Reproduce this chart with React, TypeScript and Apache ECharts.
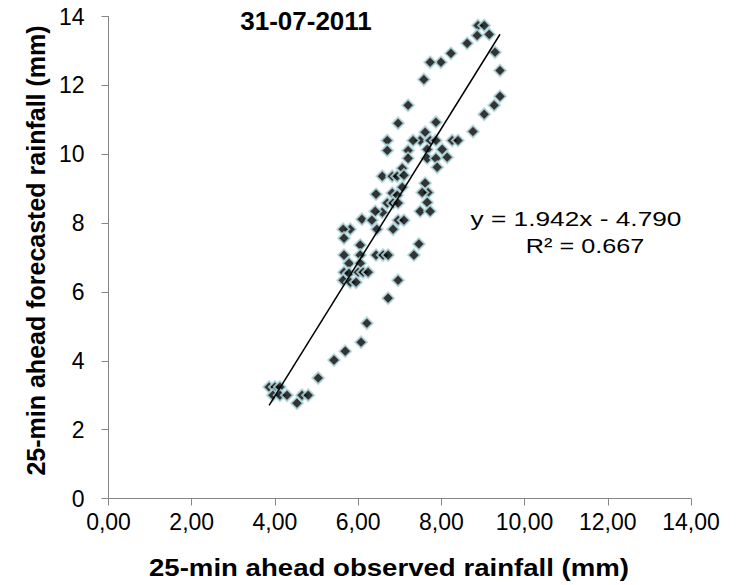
import React, { useEffect, useRef } from "react";
import * as echarts from "echarts";

// 25-min ahead observed vs forecasted rainfall (mm), event of 31-07-2011
const observed = [
  8.88, 9.03, 9.15, 8.86, 8.62, 8.23, 7.99, 7.73, 7.58, 9.29,
  9.41, 9.41, 9.27, 9.03, 8.76, 7.2, 6.96, 6.7, 6.7, 7.87,
  7.61, 7.49, 7.32, 7.73, 7.87, 8.26, 8.4, 7.2, 7.66, 8.02,
  7.2, 7.66, 7.87, 8.14, 7.06, 7.9, 6.58, 6.82, 6.94, 7.1,
  7.06, 7.61, 7.68, 7.54, 6.43, 6.82, 6.94, 6.7, 6.84, 6.96,
  7.66, 7.49, 7.73, 6.58, 6.41, 6.09, 6.33, 6.96, 7.1, 6.45,
  6.84, 5.81, 5.64, 5.66, 6.05, 7.46, 7.34, 5.66, 6.05, 6.43,
  6.6, 6.72, 5.78, 6.05, 5.66, 5.78, 6.0, 6.12, 6.24, 5.64,
  5.81, 5.95, 6.96, 6.72, 6.21, 6.07, 5.69, 5.42, 5.04, 3.86,
  4.0, 4.12, 3.95, 4.12, 4.29, 4.53, 4.65, 4.8,
];
const forecasted = [
  13.74, 13.74, 13.48, 13.45, 13.22, 12.93, 12.67, 12.67, 12.17, 12.96,
  12.43, 11.68, 11.42, 11.16, 10.66, 11.42, 10.9, 10.4, 10.11, 10.93,
  10.64, 10.4, 10.4, 10.4, 10.4, 10.4, 10.4, 10.11, 10.14, 10.14,
  9.88, 9.88, 9.88, 9.91, 9.59, 9.62, 9.36, 9.36, 9.36, 9.39,
  9.04, 9.16, 8.89, 8.89, 8.84, 8.87, 8.81, 8.58, 8.58, 8.58,
  8.6, 8.34, 8.34, 8.31, 8.34, 8.11, 8.08, 8.08, 8.08, 7.82,
  7.82, 7.82, 7.82, 7.56, 7.36, 7.39, 7.07, 7.07, 7.07, 7.07,
  7.07, 7.07, 6.83, 6.83, 6.57, 6.54, 6.57, 6.57, 6.57, 6.34,
  6.28, 6.28, 6.34, 5.82, 5.09, 4.54, 4.28, 4.02, 3.5, 3.24,
  3.24, 3.24, 3.0, 3.0, 3.0, 2.77, 3.0, 3.0,
];

// Linear trendline as reported on the chart
const slope = 1.942;
const intercept = -4.79;
const rSquared = 0.667;

const title = "31-07-2011";
const xAxisTitle = "25-min ahead observed rainfall (mm)";
const yAxisTitle = "25-min ahead forecasted rainfall (mm)";

const FONT = "'Liberation Sans', Arial, sans-serif";
const AXIS_GREY = "#868686";

export default function App() {
  const ref = useRef<HTMLDivElement>(null);

  useEffect(() => {
    document.body.style.margin = "0";
    const chart = echarts.init(ref.current!, null, { renderer: "svg" });

    const points = observed.map((x, i) => [x, forecasted[i]]);
    const xMin = Math.min(...observed);
    const xMax = Math.max(...observed);
    const trend = [
      [xMin, slope * xMin + intercept],
      [xMax, slope * xMax + intercept],
    ];

    chart.setOption({
      animation: false,
      backgroundColor: "#ffffff",
      grid: { left: 108.5, right: 51, top: 16.5, bottom: 86.5, containLabel: false },
      xAxis: {
        type: "value",
        min: 0,
        max: 14,
        interval: 2,
        axisLine: { show: true, lineStyle: { color: AXIS_GREY, width: 1 } },
        axisTick: { show: true, inside: false, length: 7, lineStyle: { color: AXIS_GREY } },
        splitLine: { show: false },
        axisLabel: {
          fontFamily: FONT,
          fontSize: 23,
          color: "#000",
          margin: 12,
          formatter: (v: number) => v.toFixed(2).replace(".", ","),
        },
      },
      yAxis: {
        type: "value",
        min: 0,
        max: 14,
        interval: 2,
        name: yAxisTitle,
        nameLocation: "middle",
        nameGap: 58,
        nameTextStyle: {
          fontFamily: FONT,
          fontWeight: "bold",
          fontSize: 25,
          color: "#000",
          padding: [0, 0, 0, 14],
        },
        axisLine: { show: true, lineStyle: { color: AXIS_GREY, width: 1 } },
        axisTick: { show: true, inside: false, length: 7, lineStyle: { color: AXIS_GREY } },
        splitLine: { show: false },
        axisLabel: {
          fontFamily: FONT,
          fontSize: 23,
          color: "#000",
          margin: 24,
        },
      },
      graphic: [
        {
          type: "text",
          x: 306,
          y: 21,
          style: {
            text: title,
            font: `bold 26px ${FONT}`,
            fill: "#000",
            textAlign: "center",
            textVerticalAlign: "middle",
          },
        },
        {
          type: "text",
          x: 389,
          y: 568,
          scaleX: 1.15,
          style: {
            text: xAxisTitle,
            font: `bold 24px ${FONT}`,
            fill: "#000",
            textAlign: "center",
            textVerticalAlign: "middle",
          },
        },
        {
          type: "text",
          x: 576,
          y: 218,
          scaleX: 1.25,
          style: {
            text: `y = ${slope.toFixed(3)}x - ${Math.abs(intercept).toFixed(3)}`,
            font: `21px ${FONT}`,
            fill: "#000",
            textAlign: "center",
            textVerticalAlign: "middle",
          },
        },
        {
          type: "text",
          x: 585,
          y: 246,
          scaleX: 1.2,
          style: {
            text: `R² = ${rSquared.toFixed(3)}`,
            font: `21px ${FONT}`,
            fill: "#000",
            textAlign: "center",
            textVerticalAlign: "middle",
          },
        },
      ],
      series: [
        {
          type: "scatter",
          data: points,
          symbol: "diamond",
          symbolSize: 12,
          itemStyle: { color: "#000000", borderColor: "#b7dde3", borderWidth: 2 },
          z: 2,
        },
        {
          type: "line",
          data: trend,
          symbol: "none",
          lineStyle: { color: "#000000", width: 1.5 },
          z: 3,
        },
      ],
    });

    return () => chart.dispose();
  }, []);

  return <div ref={ref} style={{ width: 742, height: 585 }} />;
}
